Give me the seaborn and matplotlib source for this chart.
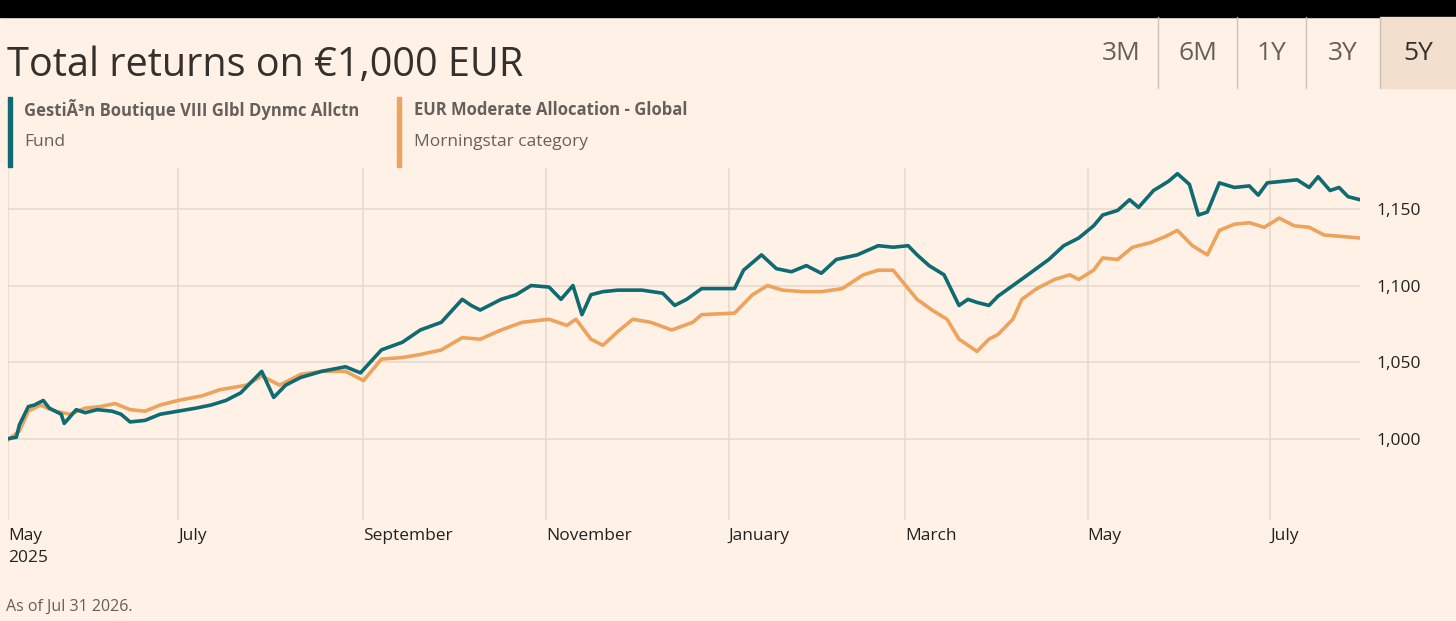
import pandas as pd
import numpy as np
import matplotlib.pyplot as plt
import matplotlib.transforms as mtransforms
from matplotlib.patches import Rectangle
import seaborn as sns

# DATA (days since 2025-05-01, value of EUR 1,000 invested)
fund_days = [4, 7, 8, 11, 13, 16, 18, 22, 23, 27, 30, 34, 39, 42, 45, 50, 55, 61, 67, 72,
             77, 82, 89, 93, 97, 102, 109, 117, 122, 129, 136, 142, 149, 156, 159, 162, 169, 174, 179, 185,
             189, 193, 196, 199, 203, 208, 216, 223, 227, 231, 236, 247, 250, 256, 261, 266, 271, 276, 281, 288,
             295, 300, 305, 308, 312, 317, 322, 325, 328, 332, 335, 340, 345, 352, 357, 362, 367, 370, 375, 379,
             382, 387, 392, 395, 399, 402, 405, 409, 414, 419, 422, 425, 430, 435, 439, 442, 446, 449, 452, 456]
fund_vals = [1000, 1001, 1009, 1021, 1022, 1025, 1020, 1016, 1010, 1019, 1017, 1019, 1018, 1016, 1011, 1012, 1016, 1018, 1020, 1022,
             1025, 1030, 1044, 1027, 1035, 1040, 1044, 1047, 1043, 1058, 1063, 1071, 1076, 1091, 1087, 1084, 1091, 1094, 1100, 1099,
             1091, 1100, 1081, 1094, 1096, 1097, 1097, 1095, 1087, 1091, 1098, 1098, 1110, 1120, 1111, 1109, 1113, 1108, 1117, 1120,
             1126, 1125, 1126, 1120, 1113, 1107, 1087, 1091, 1089, 1087, 1093, 1100, 1107, 1117, 1126, 1131, 1139, 1146, 1149, 1156,
             1151, 1162, 1168, 1173, 1166, 1146, 1148, 1167, 1164, 1165, 1159, 1167, 1168, 1169, 1164, 1171, 1162, 1164, 1158, 1156]
cat_days = [4, 8, 11, 15, 20, 25, 30, 35, 40, 45, 50, 55, 61, 69, 75, 84, 89, 95, 102, 109,
            117, 123, 129, 136, 142, 149, 156, 162, 169, 176, 185, 191, 194, 199, 203, 208, 213, 219, 226, 233,
            236, 247, 253, 258, 263, 270, 276, 283, 290, 295, 300, 305, 308, 313, 318, 322, 325, 328, 332, 335,
            340, 343, 348, 354, 359, 362, 367, 370, 375, 380, 386, 391, 395, 400, 405, 409, 414, 419, 424, 429,
            434, 439, 444, 450, 456]
cat_vals = [999, 1005, 1018, 1022, 1018, 1016, 1020, 1021, 1023, 1019, 1018, 1022, 1025, 1028, 1032, 1035, 1041, 1035, 1042, 1044,
            1044, 1038, 1052, 1053, 1055, 1058, 1066, 1065, 1071, 1076, 1078, 1074, 1078, 1065, 1061, 1070, 1078, 1076, 1071, 1076,
            1081, 1082, 1094, 1100, 1097, 1096, 1096, 1098, 1107, 1110, 1110, 1098, 1091, 1084, 1078, 1065, 1061, 1057, 1065, 1068,
            1078, 1091, 1098, 1104, 1107, 1104, 1110, 1118, 1117, 1125, 1128, 1132, 1136, 1126, 1120, 1136, 1140, 1141, 1138, 1144,
            1139, 1138, 1133, 1132, 1131]
fund_name = 'GestiÃ³n Boutique VIII Glbl Dynmc Allctn'
cat_name = 'EUR Moderate Allocation - Global'
y_ticks = [1000, 1050, 1100, 1150]
tabs = ['3M', '6M', '1Y', '3Y', '5Y']

start = pd.Timestamp('2025-05-01')
df = pd.concat([
    pd.DataFrame({'date': start + pd.to_timedelta(fund_days, unit='D'), 'value': fund_vals, 'series': 'Fund'}),
    pd.DataFrame({'date': start + pd.to_timedelta(cat_days, unit='D'), 'value': cat_vals, 'series': 'Category'}),
])

BG = '#fff1e5'
TEAL = '#0f6b72'
ORANGE = '#eda35c'
GREY = '#66605c'
GRID = '#e6d9ce'

sns.set_style('white')
plt.rcParams['font.family'] = ['Open Sans', 'DejaVu Sans']

W, H = 1456, 621
fig = plt.figure(figsize=(W / 100, H / 100), dpi=100, facecolor=BG)
ax = fig.add_axes([8 / W, (H - 520) / H, (1360 - 8) / W, (520 - 168) / H], facecolor=BG)

sns.lineplot(data=df, x='date', y='value', hue='series', hue_order=['Category', 'Fund'],
             palette={'Fund': TEAL, 'Category': ORANGE}, linewidth=2.6, legend=False, ax=ax)

x_lo = pd.Timestamp('2025-05-05 05:00')
ax.set_xlim(x_lo, pd.Timestamp('2026-07-31'))
ax.set_ylim(947, 1176.7)
ax.set_xlabel('')
ax.set_ylabel('')
for s in ax.spines.values():
    s.set_visible(False)

ax.yaxis.tick_right()
ax.set_yticks(y_ticks)
ax.set_yticklabels([f'{v:,}' for v in y_ticks], fontsize=12.5, color='#222222')
ax.tick_params(axis='y', length=0, pad=12)
ax.grid(axis='y', color=GRID, linewidth=1.2)

months = pd.date_range('2025-07-01', '2026-07-01', freq='2MS')
ticks = [x_lo] + list(months)
ax.set_xticks(ticks)
ax.set_xticklabels(['May\n2025'] + [m.strftime('%B') for m in months], fontsize=12.5,
                   color='#222222', ha='left', va='top', linespacing=1.5)
shift = mtransforms.ScaledTranslation(9 / 100, 0, fig.dpi_scale_trans)
for lbl in ax.get_xticklabels():
    lbl.set_transform(lbl.get_transform() + shift)
ax.tick_params(axis='x', length=0, pad=6)
for m in ticks:
    ax.axvline(m, color=GRID, linewidth=1.2, zorder=0)

# header
fig.patches.append(Rectangle((0, 1 - 17 / H), 1, 17 / H, transform=fig.transFigure, color='black'))
fig.text(7 / W, 1 - 66 / H, 'Total returns on €1,000 EUR', fontsize=28.5, color='#33302e', va='center')

tab_edges = [1085, 1158, 1237, 1306, 1380, 1456]
for i, t in enumerate(tabs):
    x0, x1 = tab_edges[i], tab_edges[i + 1]
    if t == '5Y':
        fig.patches.append(Rectangle((x0 / W, 1 - 88 / H), (x1 - x0) / W, 71 / H,
                                     transform=fig.transFigure, color='#f2dfce'))
    if i > 0:
        fig.lines.append(plt.Line2D([x0 / W, x0 / W], [1 - 88 / H, 1 - 17 / H],
                                    transform=fig.transFigure, color='#ccc1b7', linewidth=1))
    fig.text((x0 + x1) / 2 / W, 1 - 53 / H, t, fontsize=19, ha='center', va='center',
             color='#33302e' if t == '5Y' else GREY)

# legend
for bx, tx, col, name, sub in [(8, 24, TEAL, fund_name, 'Fund'),
                               (397, 414, ORANGE, cat_name, 'Morningstar category')]:
    fig.patches.append(Rectangle((bx / W, 1 - 167 / H), 4 / W, 70 / H, transform=fig.transFigure, color=col))
    fig.text(tx / W, 1 - 110 / H, name, fontsize=12, fontweight='bold', color=GREY, va='center')
    fig.text(tx / W, 1 - 142 / H, sub, fontsize=12.5, color=GREY, va='center')

fig.text(6 / W, 1 - 607 / H, 'As of Jul 31 2026.', fontsize=11.5, color=GREY, va='center')

fig.savefig('out.png', dpi=100, facecolor=BG)
